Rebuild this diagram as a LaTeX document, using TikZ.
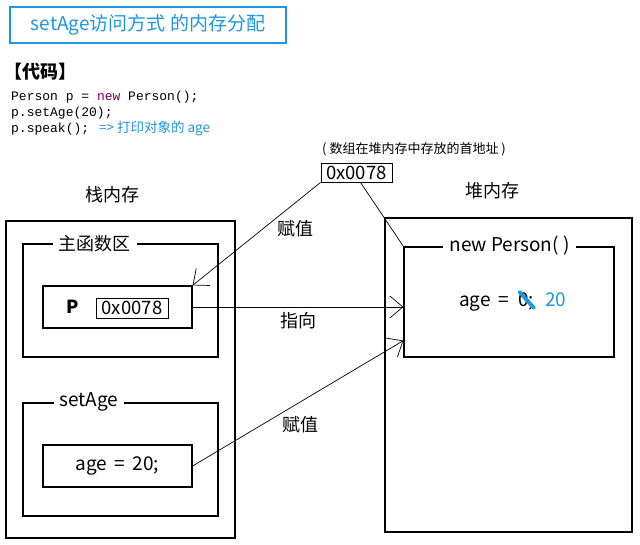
\documentclass[tikz,border=0pt]{standalone}
\usepackage{fontspec}
\setmainfont{Noto Sans CJK SC}
\setmonofont{Liberation Mono}
\usepackage{tikz}
\usetikzlibrary{arrows.meta, positioning}
\definecolor{titleblue}{RGB}{30,150,225}
\definecolor{kwred}{RGB}{127,0,85}

\begin{document}
\begin{tikzpicture}[x=1pt, y=-1pt,
    box/.style={rectangle, draw, line width=1.2pt, inner sep=0pt},
    tag/.style={fill=white, inner sep=6pt, font=\fontsize{18}{21}\selectfont},
    lbl/.style={font=\fontsize{18}{21}\selectfont},
    latin/.style={font=\fontsize{19}{22}\selectfont},
    code/.style={anchor=base west, inner sep=0pt, font=\ttfamily\fontsize{13}{16}\selectfont},
    arrow/.style={-{Straight Barb[length=13pt, width=22pt]}, line width=0.7pt}
]
    \useasboundingbox (0,0) rectangle (640,545);

    % Title
    \node[box, draw=titleblue, minimum width=276pt, minimum height=36pt, text=titleblue, font=\fontsize{19}{22}\selectfont] (title) at (148,25) {setAge访问方式 的内存分配};

    % Code
    \node[anchor=west, inner sep=0pt, font=\bfseries\fontsize{18}{21}\selectfont] (codehead) at (4,72) {【代码】};
    \node[code] (code1) at (11,101) {Person p = \textcolor{kwred}{new} Person();};
    \node[code] (code2) at (11,117) {p.setAge(20);};
    \node[code] (code3) at (11,133) {p.speak(); \textcolor{titleblue}{\rmfamily\fontsize{13.5}{16}\selectfont \hspace{2pt}=> 打印对象的 age}};

    % Address
    \node[font=\fontsize{13}{15}\selectfont] (note) at (414,149) {( 数组在堆内存中存放的首地址 )};
    \node[box, line width=0.9pt, minimum width=71pt, minimum height=19pt, font=\fontsize{18.5}{20}\selectfont] (addr) at (356.5,172.5) {0x0078};

    % Memory labels
    \node[lbl] (stacklbl) at (112,195) {栈内存};
    \node[lbl] (heaplbl) at (492,191) {堆内存};

    % Stack
    \node[box, minimum width=229pt, minimum height=317pt] (stack) at (120.5,379.5) {};
    \node[box, minimum width=195pt, minimum height=113pt] (mainfn) at (120.5,300.5) {};
    \node[tag] (mainlbl) at (94.5,244) {主函数区};
    \node[box, minimum width=149pt, minimum height=42pt] (pvar) at (117.5,307) {};
    \node[font=\bfseries\fontsize{18}{20}\selectfont] (pname) at (73,307) {P};
    \node[box, line width=0.9pt, minimum width=72pt, minimum height=20pt, font=\fontsize{18.5}{20}\selectfont] (pval) at (132,308) {0x0078};
    \node[box, minimum width=195pt, minimum height=113pt] (setage) at (120.5,459.5) {};
    \node[tag, latin] (setagelbl) at (89,402) {setAge};
    \node[box, latin, minimum width=149pt, minimum height=42pt] (agevar) at (117.5,466) {age \,=\, 20;};

    % Heap
    \node[box, minimum width=247pt, minimum height=314pt] (heap) at (508.5,375) {};
    \node[box, minimum width=210pt, minimum height=110pt] (obj) at (509,302) {};
    \node[tag, latin] (objlbl) at (509.5,246) {new Person( )};
    \node[latin, anchor=base east, inner sep=0pt] (agefld) at (512,307) {age \,=\,};
    \node[latin, anchor=base west, inner sep=0pt] (agezero) at (518,307) {0;};
    \node[latin, anchor=base west, inner sep=0pt, text=titleblue] (agenew) at (545,307) {20};
    \draw[titleblue, line width=3.8pt, line cap=round] (519.5,292) -- (534,308);

    % Arrows
    \draw[arrow] (addr.south west) -- (pvar.north east);
    \draw[line width=0.7pt] ([xshift=4pt]addr.south) -- (obj.north west);
    \draw[arrow] (pvar.east) -- (pvar.east -| obj.west);
    \draw[arrow] (agevar.east) -- ([yshift=17pt]obj.south west);

    % Arrow labels
    \node[lbl] (assign1) at (295,229) {赋值};
    \node[lbl] (pointto) at (298,321) {指向};
    \node[lbl] (assign2) at (300,425) {赋值};
\end{tikzpicture}
\end{document}
